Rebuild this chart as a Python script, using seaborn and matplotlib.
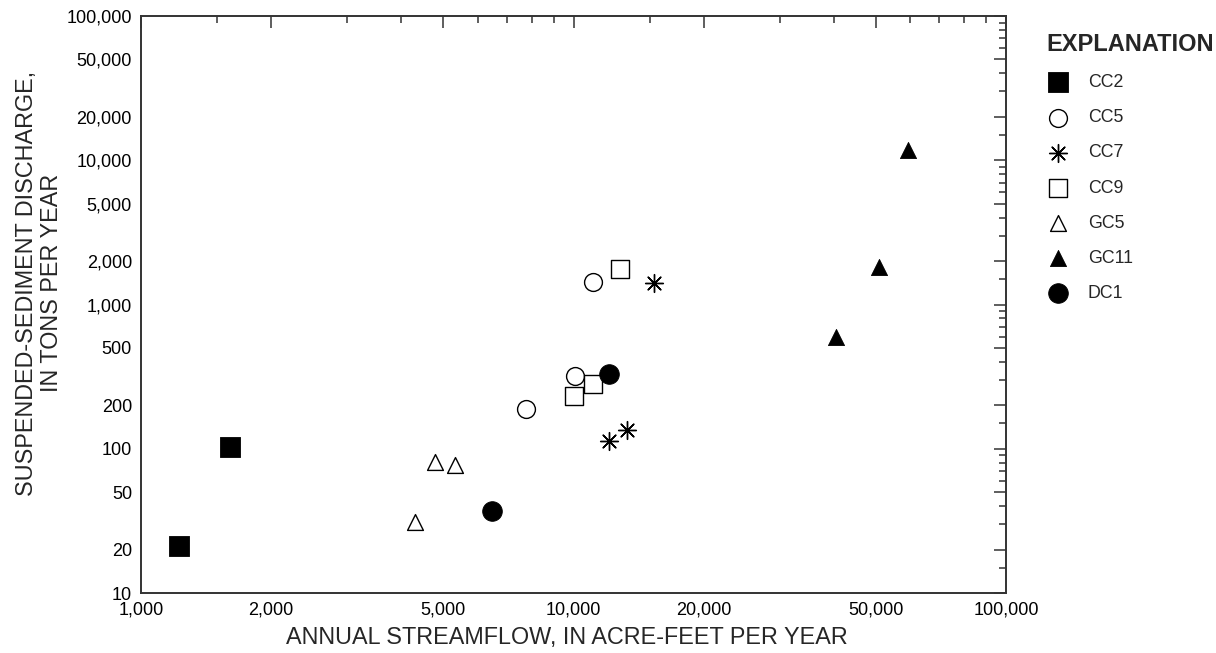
import matplotlib
matplotlib.use("Agg")
import matplotlib.pyplot as plt
from matplotlib.ticker import FixedLocator, FixedFormatter, NullFormatter
import pandas as pd
import seaborn as sns

# Annual streamflow (acre-feet per year) and suspended-sediment discharge (tons per year)
sites = ["CC2", "CC5", "CC7", "CC9", "GC5", "GC11", "DC1"]
cc2_flow = [1224, 1603]
cc2_sed = [21.3, 103]
cc5_flow = [7755, 10100, 11110]
cc5_sed = [188, 321, 1426]
cc7_flow = [12100, 13300, 15350]
cc7_sed = [113, 135, 1403]
cc9_flow = [10000, 11110, 12830]
cc9_sed = [231, 280, 1754]
gc5_flow = [4305, 4792, 5321]
gc5_sed = [31, 81, 77]
gc11_flow = [40460, 50780, 59430]
gc11_sed = [596, 1820, 11780]
dc1_flow = [6480, 12100]
dc1_sed = [37, 328]

x_major = [1000, 2000, 5000, 10000, 20000, 50000, 100000]
x_major_labels = ["1,000", "2,000", "5,000", "10,000", "20,000", "50,000", "100,000"]
y_major = [10, 20, 50, 100, 200, 500, 1000, 2000, 5000, 10000, 20000, 50000, 100000]
y_major_labels = ["10", "20", "50", "100", "200", "500", "1,000", "2,000", "5,000",
                  "10,000", "20,000", "50,000", "100,000"]
minor_mantissas = [1.5, 3, 4, 6, 7, 8, 9]

flows = [cc2_flow, cc5_flow, cc7_flow, cc9_flow, gc5_flow, gc11_flow, dc1_flow]
seds = [cc2_sed, cc5_sed, cc7_sed, cc9_sed, gc5_sed, gc11_sed, dc1_sed]
df = pd.concat(
    [pd.DataFrame({"site": s, "flow": f, "sed": d}) for s, f, d in zip(sites, flows, seds)],
    ignore_index=True,
)

# marker, face colour, size (pt^2), edge width per site
styles = {
    "CC2": dict(marker="s", facecolor="black", s=190, linewidth=0.6),
    "CC5": dict(marker="o", facecolor="white", s=165, linewidth=1.0),
    "CC7": dict(marker=(8, 2, 0), facecolor="black", s=165, linewidth=1.0),
    "CC9": dict(marker="s", facecolor="white", s=160, linewidth=1.0),
    "GC5": dict(marker="^", facecolor="white", s=130, linewidth=1.0),
    "GC11": dict(marker="^", facecolor="black", s=135, linewidth=0.6),
    "DC1": dict(marker="o", facecolor="black", s=200, linewidth=0.6),
}

sns.set_style("white")
plt.rcParams["font.family"] = ["Liberation Sans", "DejaVu Sans"]

W, H = 1216, 653
fig = plt.figure(figsize=(W / 100, H / 100), dpi=100)
ax = fig.add_axes([141 / W, (H - 593) / H, (1006 - 141) / W, (593 - 16) / H])

for site in sites:
    sub = df[df["site"] == site]
    st = styles[site]
    sns.scatterplot(
        data=sub, x="flow", y="sed", ax=ax, label=site,
        marker=st["marker"], s=st["s"], facecolor=st["facecolor"],
        edgecolor="black", linewidth=st["linewidth"], zorder=3,
    )

ax.set_xscale("log")
ax.set_yscale("log")
ax.set_xlim(1000, 100000)
ax.set_ylim(10, 100000)

ax.xaxis.set_major_locator(FixedLocator(x_major))
ax.xaxis.set_major_formatter(FixedFormatter(x_major_labels))
ax.yaxis.set_major_locator(FixedLocator(y_major))
ax.yaxis.set_major_formatter(FixedFormatter(y_major_labels))
x_minor = [m * 10 ** e for e in (3, 4) for m in minor_mantissas]
y_minor = [m * 10 ** e for e in (1, 2, 3, 4) for m in minor_mantissas]
ax.xaxis.set_minor_locator(FixedLocator(x_minor))
ax.yaxis.set_minor_locator(FixedLocator(y_minor))
ax.xaxis.set_minor_formatter(NullFormatter())
ax.yaxis.set_minor_formatter(NullFormatter())

for sp in ax.spines.values():
    sp.set_visible(True)
    sp.set_color("#333333")
    sp.set_linewidth(1.4)

ax.tick_params(which="both", direction="in", top=True, right=True,
               color="#333333", width=1.1, labelsize=13, labelcolor="black")
ax.tick_params(which="major", length=8.5)
ax.tick_params(which="minor", length=5)
ax.tick_params(axis="y", which="major", pad=6.5)
ax.tick_params(axis="x", which="major", pad=6)

ax.set_xlabel("ANNUAL STREAMFLOW, IN ACRE-FEET PER YEAR", fontsize=16.8)
ax.set_ylabel("SUSPENDED-SEDIMENT DISCHARGE,\nIN TONS PER YEAR", fontsize=16.8,
              linespacing=1.1)
ax.xaxis.set_label_coords(0.492, -0.058)
ax.yaxis.set_label_coords(-0.090, 0.537)

leg = ax.legend(
    title="EXPLANATION", loc="upper left",
    bbox_to_anchor=(1046 / W, 1 - 33 / H), bbox_transform=fig.transFigure,
    frameon=False, borderpad=0, borderaxespad=0,
    handlelength=1.3, handletextpad=1.05, labelspacing=1.02,
    alignment="left", scatterpoints=1,
    prop={"size": 12.8}, title_fontproperties={"size": 17, "weight": "bold"},
)

fig.savefig("out.png", dpi=100)
